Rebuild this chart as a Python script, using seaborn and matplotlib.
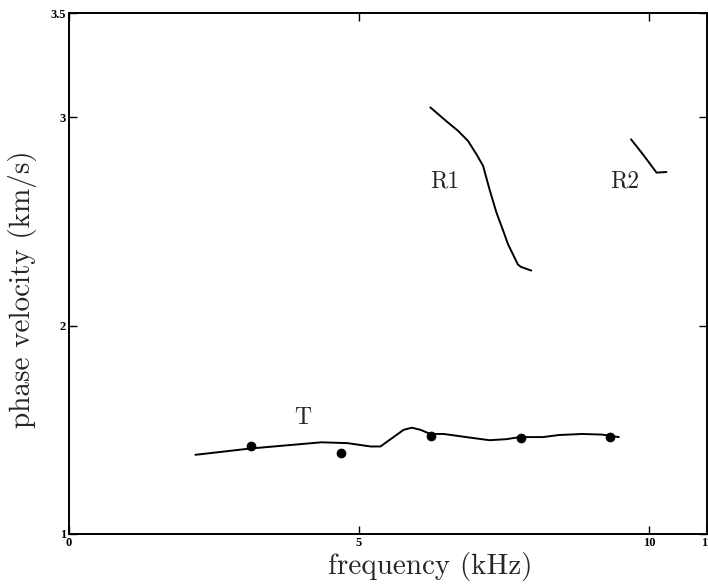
import matplotlib
matplotlib.use("Agg")
import matplotlib.pyplot as plt
import numpy as np
import pandas as pd
import seaborn as sns

# Dispersion curves: phase velocity (km/s) vs frequency (kHz)
t_freq = [2.18, 3.12, 4.35, 4.80, 5.20, 5.37, 5.77, 5.91, 6.06, 6.23, 6.46,
          6.85, 7.25, 7.54, 7.77, 8.17, 8.45, 8.85, 9.19, 9.48]
t_vel = [1.38, 1.41, 1.44, 1.436, 1.42, 1.42, 1.50, 1.51, 1.50, 1.48, 1.48,
         1.465, 1.45, 1.455, 1.465, 1.465, 1.475, 1.48, 1.477, 1.465]

r1_freq = [6.23, 6.51, 6.71, 6.88, 7.03, 7.14, 7.25, 7.37, 7.48, 7.57, 7.74,
           7.79, 7.97]
r1_vel = [3.047, 2.98, 2.934, 2.886, 2.82, 2.766, 2.654, 2.542, 2.46, 2.39,
          2.293, 2.282, 2.264]

r2_freq = [9.69, 9.90, 10.13, 10.30]
r2_vel = [2.894, 2.82, 2.734, 2.737]

# Measured points
obs_freq = [3.14, 4.69, 6.24, 7.79, 9.32]
obs_vel = [1.42, 1.39, 1.468, 1.463, 1.465]

x_ticks = [0, 5, 10, 11]
x_tick_labels = ["0", "5", "10", "11"]
y_ticks = [1, 2, 3, 3.5]
y_tick_labels = ["1", "2", "3", "3.5"]

sns.set_theme(style="ticks")
plt.rcParams["font.family"] = ["cmr10", "DejaVu Serif"]
plt.rcParams["axes.formatter.use_mathtext"] = True
plt.rcParams["mathtext.fontset"] = "cm"

fig = plt.figure(figsize=(7.08, 5.84), dpi=100)
ax = fig.add_axes([69 / 708, 50 / 584, 638 / 708, 521 / 584])

curves = pd.concat([
    pd.DataFrame({"f": t_freq, "v": t_vel, "mode": "T"}),
    pd.DataFrame({"f": r1_freq, "v": r1_vel, "mode": "R1"}),
    pd.DataFrame({"f": r2_freq, "v": r2_vel, "mode": "R2"}),
])
for mode, grp in curves.groupby("mode", sort=False):
    sns.lineplot(data=grp, x="f", y="v", ax=ax, color="black", lw=1.4,
                 sort=False, estimator=None)

obs = pd.DataFrame({"f": obs_freq, "v": obs_vel})
sns.scatterplot(data=obs, x="f", y="v", ax=ax, color="black", s=42,
                edgecolor="black", zorder=3)

label_kw = dict(fontsize=17, ha="center", va="center")
ax.text(4.03, 1.556, "T", **label_kw)
ax.text(6.48, 2.69, "R1", **label_kw)
ax.text(9.58, 2.69, "R2", **label_kw)

ax.set_xlim(0, 11)
ax.set_ylim(1, 3.5)
ax.set_xticks(x_ticks)
ax.set_xticklabels(x_tick_labels)
ax.set_yticks(y_ticks)
ax.set_yticklabels(y_tick_labels)
ax.tick_params(direction="in", length=6, width=1, labelsize=9, pad=2,
               top=True, right=True, colors="black")
for lab in ax.get_xticklabels() + ax.get_yticklabels():
    lab.set_family(["Liberation Serif"])
    lab.set_fontweight("bold")
for side in ax.spines.values():
    side.set_visible(True)
    side.set_color("black")
    side.set_linewidth(1.4)

ax.set_xlabel("frequency (kHz)", fontsize=21)
ax.xaxis.set_label_coords(0.567, -0.035)
ax.set_ylabel("phase velocity (km/s)", fontsize=21)
ax.yaxis.set_label_coords(-0.05, 0.47)

fig.savefig("out.png", dpi=100, facecolor="white")
